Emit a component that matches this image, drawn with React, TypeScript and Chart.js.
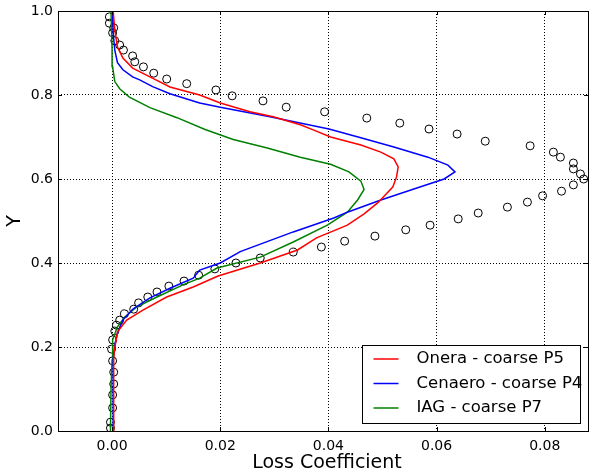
import React, { useEffect, useRef } from 'react';
import { Chart, registerables } from 'chart.js';

Chart.register(...registerables);

const xTicks = [0, 0.02, 0.04, 0.06, 0.08];
const yTicks = [0, 0.2, 0.4, 0.6, 0.8, 1.0];

const xTitle = 'Loss Coefficient';
const yTitle = 'Y';
const seriesLabels = ['Onera - coarse P5', 'Cenaero - coarse P4', 'IAG - coarse P7'];
const seriesColors = ['#ff0000', '#0000ff', '#008000'];

const oneraY = [0, 0.1, 0.17, 0.19, 0.236, 0.264, 0.288, 0.319, 0.343, 0.369, 0.4, 0.431, 0.46, 0.49, 0.517, 0.543, 0.581, 0.605, 0.629, 0.648, 0.664, 0.681, 0.7, 0.717, 0.729, 0.748, 0.76, 0.781, 0.8, 0.819, 0.843, 0.864, 0.888, 0.914, 0.955, 1.0];
const oneraX = [0.0003, 0.0003, 0.0003, 0.0004, 0.001, 0.0027, 0.0057, 0.0101, 0.015, 0.0196, 0.0274, 0.0343, 0.0378, 0.0435, 0.0466, 0.0491, 0.0519, 0.0526, 0.0529, 0.0521, 0.0497, 0.046, 0.0404, 0.0372, 0.0348, 0.0298, 0.0255, 0.02, 0.0162, 0.0107, 0.007, 0.0038, 0.002, 0.001, 0.0005, 0.0002];

const cenaeroY = [0, 0.1, 0.169, 0.205, 0.233, 0.264, 0.29, 0.317, 0.34, 0.364, 0.383, 0.4, 0.427, 0.474, 0.507, 0.521, 0.55, 0.579, 0.6, 0.617, 0.633, 0.652, 0.676, 0.698, 0.719, 0.748, 0.771, 0.781, 0.803, 0.82, 0.836, 0.843, 0.86, 0.877, 0.907, 0.948, 1.0];
const cenaeroX = [0.0002, 0.0002, 0.0002, 0.0005, 0.001, 0.002, 0.0038, 0.007, 0.0107, 0.015, 0.0162, 0.02, 0.0237, 0.0335, 0.041, 0.0435, 0.0497, 0.0565, 0.0614, 0.0634, 0.0621, 0.0584, 0.0521, 0.046, 0.0401, 0.0292, 0.02, 0.0162, 0.0107, 0.0075, 0.0051, 0.0038, 0.002, 0.001, 0.0005, 0.0002, 0.0001];

const iagY = [0, 0.1, 0.169, 0.217, 0.248, 0.271, 0.295, 0.319, 0.348, 0.364, 0.388, 0.414, 0.45, 0.49, 0.521, 0.55, 0.575, 0.595, 0.617, 0.635, 0.652, 0.674, 0.694, 0.718, 0.746, 0.77, 0.795, 0.815, 0.832, 0.867, 0.907, 1.0];
const iagX = [-0.0003, -0.0002, 0, 0.0001, 0.001, 0.0023, 0.0045, 0.0083, 0.0131, 0.0162, 0.0194, 0.0274, 0.0335, 0.0398, 0.0435, 0.0454, 0.0466, 0.046, 0.0438, 0.0404, 0.0348, 0.0287, 0.0224, 0.0172, 0.012, 0.007, 0.0032, 0.0014, 0.0005, 0.0001, 0, -0.0002];

const expX = [-0.0005, -0.0005, 0.0003, 0.0001, 0.0005, 0.0014, 0.0021, 0.0038, 0.0042, 0.0058, 0.0077, 0.0101, 0.0138, 0.0192, 0.0222, 0.0279, 0.0322, 0.0393, 0.0471, 0.0532, 0.0586, 0.0638, 0.069, 0.0773, 0.0816, 0.0829, 0.0853, 0.0853, 0.0866, 0.0872, 0.0853, 0.0831, 0.0796, 0.0768, 0.0731, 0.0677, 0.064, 0.0588, 0.0543, 0.0486, 0.043, 0.0387, 0.0335, 0.0274, 0.0229, 0.019, 0.016, 0.0133, 0.0105, 0.0083, 0.0066, 0.0049, 0.004, 0.0023, 0.0014, 0.0008, 0.0005, 0.0001, -0.0001, 0.0001, 0.0003, 0.0003, 0.0001, 0.0001, -0.0003, -0.0003];
const expY = [0.986, 0.971, 0.96, 0.948, 0.929, 0.919, 0.907, 0.893, 0.879, 0.867, 0.852, 0.838, 0.827, 0.812, 0.798, 0.786, 0.771, 0.76, 0.745, 0.733, 0.719, 0.707, 0.69, 0.679, 0.664, 0.652, 0.638, 0.624, 0.612, 0.6, 0.586, 0.571, 0.56, 0.545, 0.533, 0.519, 0.505, 0.49, 0.479, 0.464, 0.452, 0.438, 0.426, 0.412, 0.4, 0.386, 0.371, 0.357, 0.345, 0.331, 0.319, 0.305, 0.29, 0.279, 0.264, 0.252, 0.238, 0.217, 0.195, 0.167, 0.14, 0.112, 0.086, 0.055, 0.021, 0.007];

const FONT = 'DejaVu Sans';

const zip = (xs: number[], ys: number[]) => xs.map((x, i) => ({ x, y: ys[i] }));

const framePlugin = {
  id: 'frameAndLegend',
  afterDraw(chart: any) {
    const { ctx, chartArea } = chart;
    const { left, right, top, bottom } = chartArea;
    const xs = chart.scales.x;
    const ys = chart.scales.y;
    ctx.save();
    ctx.strokeStyle = '#000';
    ctx.lineWidth = 1;
    ctx.setLineDash([]);
    // inward tick marks on all four sides
    ctx.beginPath();
    xTicks.forEach((v) => {
      const px = Math.round(xs.getPixelForValue(v)) + 0.5;
      ctx.moveTo(px, bottom);
      ctx.lineTo(px, bottom - 4);
      ctx.moveTo(px, top);
      ctx.lineTo(px, top + 4);
    });
    yTicks.forEach((v) => {
      const py = Math.round(ys.getPixelForValue(v)) + 0.5;
      ctx.moveTo(left, py);
      ctx.lineTo(left + 4, py);
      ctx.moveTo(right, py);
      ctx.lineTo(right - 4, py);
    });
    ctx.stroke();
    // axes frame
    ctx.strokeRect(Math.round(left) + 0.5, Math.round(top) + 0.5, Math.round(right - left), Math.round(bottom - top));
    // axis titles
    ctx.fillStyle = '#000';
    ctx.font = `19px "${FONT}"`;
    ctx.textAlign = 'center';
    ctx.textBaseline = 'middle';
    ctx.fillText(xTitle, (left + right) / 2 + 4, bottom + 32);
    ctx.save();
    ctx.translate(15, (top + bottom) / 2);
    ctx.rotate(-Math.PI / 2);
    ctx.fillText(yTitle, 0, 0);
    ctx.restore();
    // legend
    const bx = Math.round(right) - 226 + 0.5;
    const by = Math.round(bottom) - 86 + 0.5;
    const bw = 218;
    const bh = 78;
    ctx.fillStyle = '#fff';
    ctx.fillRect(bx, by, bw, bh);
    ctx.strokeStyle = '#000';
    ctx.lineWidth = 1;
    ctx.strokeRect(bx, by, bw, bh);
    ctx.font = `16.5px "${FONT}"`;
    ctx.textBaseline = 'middle';
    ctx.textAlign = 'left';
    seriesLabels.forEach((label, i) => {
      const cy = by + 13.5 + i * 24.5;
      ctx.strokeStyle = seriesColors[i];
      ctx.lineWidth = 1.5;
      ctx.beginPath();
      ctx.moveTo(bx + 11, cy);
      ctx.lineTo(bx + 36, cy);
      ctx.stroke();
      ctx.fillStyle = '#000';
      ctx.fillText(label, bx + 54, cy);
    });
    ctx.restore();
  },
};

export default function App() {
  const canvasRef = useRef<HTMLCanvasElement | null>(null);

  useEffect(() => {
    document.body.style.margin = '0';
    const canvas = canvasRef.current;
    if (!canvas) return;
    const lineDs = (i: number, xs: number[], ys: number[]) => ({
      label: seriesLabels[i],
      data: zip(xs, ys),
      showLine: true,
      borderColor: seriesColors[i],
      backgroundColor: seriesColors[i],
      borderWidth: 1.5,
      pointRadius: 0,
      fill: false,
      tension: 0,
    });
    const chart = new Chart(canvas, {
      type: 'scatter',
      data: {
        datasets: [
          lineDs(0, oneraX, oneraY),
          lineDs(1, cenaeroX, cenaeroY),
          lineDs(2, iagX, iagY),
          {
            label: 'Experiment',
            data: zip(expX, expY),
            showLine: false,
            pointRadius: 4,
            pointBorderWidth: 1,
            pointBorderColor: '#000',
            pointBackgroundColor: 'rgba(0,0,0,0)',
            borderColor: '#000',
            backgroundColor: 'rgba(0,0,0,0)',
          },
        ],
      } as any,
      options: {
        animation: false,
        responsive: false,
        maintainAspectRatio: false,
        layout: { autoPadding: false, padding: { top: 11, right: 2, left: 0, bottom: 0 } },
        plugins: { legend: { display: false }, tooltip: { enabled: false } },
        scales: {
          x: {
            type: 'linear',
            min: -0.01,
            max: 0.088,
            afterBuildTicks: (s: any) => {
              s.ticks = xTicks.map((v) => ({ value: v }));
            },
            afterFit: (s: any) => {
              s.height = 43;
              s.paddingLeft = 0;
              s.paddingRight = 0;
              s.paddingTop = 0;
              s.paddingBottom = 0;
            },
            grid: { color: '#000', lineWidth: 1, drawTicks: true, tickLength: 7, tickColor: 'rgba(0,0,0,0)' },
            border: { display: false, dash: [1, 2] },
            ticks: {
              callback: (v: any) => Number(v).toFixed(2),
              font: { family: FONT, size: 14 },
              color: '#000',
              padding: 0,
              maxRotation: 0,
              autoSkip: false,
            },
            title: { display: false },
          },
          y: {
            type: 'linear',
            min: 0,
            max: 1,
            afterBuildTicks: (s: any) => {
              s.ticks = yTicks.map((v) => ({ value: v }));
            },
            afterFit: (s: any) => {
              s.width = 58;
              s.paddingLeft = 0;
              s.paddingRight = 0;
              s.paddingTop = 0;
              s.paddingBottom = 0;
            },
            grid: { color: '#000', lineWidth: 1, drawTicks: true, tickLength: 5, tickColor: 'rgba(0,0,0,0)' },
            border: { display: false, dash: [1, 2] },
            ticks: {
              callback: (v: any) => Number(v).toFixed(1),
              font: { family: FONT, size: 14 },
              color: '#000',
              padding: 0,
              autoSkip: false,
            },
            title: { display: false },
          },
        },
      } as any,
      plugins: [framePlugin],
    });
    return () => chart.destroy();
  }, []);

  return (
    <div style={{ width: 590, height: 474 }}>
      <canvas ref={canvasRef} width={590} height={474} style={{ display: 'block' }} />
    </div>
  );
}
